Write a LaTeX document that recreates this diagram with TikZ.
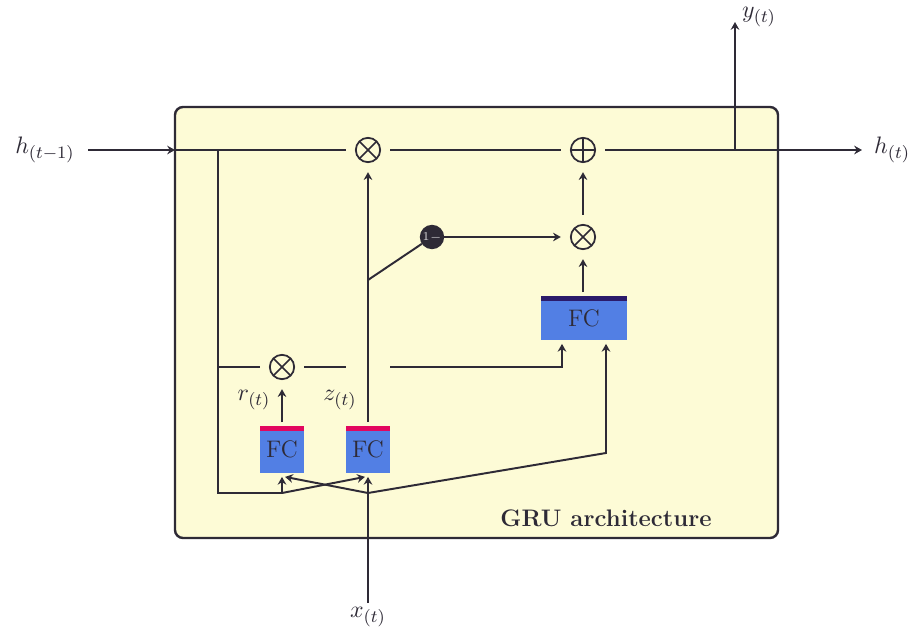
\documentclass[tikz,border=0pt]{standalone}
\usetikzlibrary{calc,arrows.meta}
\definecolor{ink}{HTML}{2E2A36}
\definecolor{boxfill}{HTML}{FDFBD6}
\definecolor{fcblue}{HTML}{527FE4}
\definecolor{fcpink}{HTML}{E2065F}
\definecolor{fcpurple}{HTML}{2B1B6B}
\begin{document}
\begin{tikzpicture}[x=0.46pt,y=-0.46pt,line width=0.9pt,
  every node/.style={text=ink,font=\fontsize{11}{13}\selectfont},
  conn/.style={draw=ink,line width=0.9pt},
  opnode/.style={circle,draw=ink,line width=0.8pt,minimum size=11.2pt,inner sep=0pt,outer sep=4.6pt},
  mulop/.style={opnode,path picture={
      \draw[ink,line width=0.8pt] ([shift={(45:5.6pt)}]path picture bounding box.center) -- ([shift={(225:5.6pt)}]path picture bounding box.center);
      \draw[ink,line width=0.8pt] ([shift={(135:5.6pt)}]path picture bounding box.center) -- ([shift={(315:5.6pt)}]path picture bounding box.center);}},
  addop/.style={opnode,path picture={
      \draw[ink,line width=0.8pt] ([shift={(0:5.6pt)}]path picture bounding box.center) -- ([shift={(180:5.6pt)}]path picture bounding box.center);
      \draw[ink,line width=0.8pt] ([shift={(90:5.6pt)}]path picture bounding box.center) -- ([shift={(270:5.6pt)}]path picture bounding box.center);}},
  fcbox/.style 2 args={rectangle,fill=fcblue,inner sep=0pt,outer sep=1.8pt,minimum width=#1,minimum height=21.6pt,text=ink,
      path picture={\fill[#2] (path picture bounding box.north west) rectangle ([yshift=-2.3pt]path picture bounding box.north east);}},
  onenode/.style={circle,fill=ink,minimum size=11.2pt,inner sep=0pt,outer sep=0pt,text=white!80!ink,font=\fontsize{5.5}{6}\selectfont},
  arr/.style={conn,-{Stealth[length=3.6pt,width=4pt,inset=1.2pt]}}
]
\useasboundingbox (0,0) rectangle (913,631);
% container
\draw[ink,line width=1.1pt,fill=boxfill,rounded corners=3.7pt] (175,107) rectangle (778,538);
\node[font=\fontsize{11}{13}\selectfont\bfseries] (title) at (606,518) {GRU architecture};

% op nodes
\node[mulop] (m1) at (368,150) {};
\node[addop] (p1) at (583,150) {};
\node[mulop] (m2) at (583,237) {};
\node[mulop] (m3) at (282,367) {};
\node[onenode] (one) at (432,237) {1$-$};

% FC nodes
\node[fcbox={20.2pt}{fcpink}] (fc1) at (282,449.5) {\raisebox{-1pt}{FC}};
\node[fcbox={20.2pt}{fcpink}] (fc2) at (368,449.5) {\raisebox{-1pt}{FC}};
\node[fcbox={40pt}{fcpurple},minimum height=20.2pt] (fc3) at (584,318) {\raisebox{-1pt}{FC}};

% labels
\node (hprev) at (45,150) {$h_{(t-1)}$};
\node[anchor=west] (hnext) at (866,150) {$h_{(t)}$};
\node[anchor=south west,inner sep=1pt] (ylab) at (739,30) {$y_{(t)}$};
\node (xlab) at (368,617) {$x_{(t)}$};
\node (rlab) at (254,400) {$r_{(t)}$};
\node (zlab) at (340,400) {$z_{(t)}$};

% coordinates
\coordinate (hin) at (175,150);
\coordinate (hj) at (218,150);
\coordinate (hd) at (218,493);
\coordinate (hb) at (282,493);
\coordinate (hr) at (218,367);
\coordinate (xb) at (368,493);
\coordinate (xs) at (368,603);
\coordinate (xr) at (606,453);
\coordinate (zc) at (368,280);
\coordinate (g1) at (346,367);
\coordinate (g2) at (390,367);
\coordinate (g3) at (562,367);
\coordinate (yb) at (735,150);
\coordinate (ytop) at (735,22);
\coordinate (hend) at (862,150);

% connectors
\draw[arr] (88,150) -- (hin);
\draw[conn] (hin) -- (m1);
\draw[conn] (hj) -- (hd) -- (hb);
\draw[arr] (hb) -- (fc1.south);
\draw[arr] (hb) -- ([xshift=-1.4pt]fc2.south);
\draw[arr] (xs) -- (fc2.south);
\draw[arr] (xb) -- ([xshift=1.4pt]fc1.south);
\draw[arr] (xb) -- (xr) -- (xr |- fc3.south);
\draw[conn] (hr) -- (m3);
\draw[conn] (m3) -- (g1);
\draw[arr] (g2) -- (g3) -- (g3 |- fc3.south);
\draw[arr] (fc1) -- (m3);
\draw[arr] (fc2) -- (m1);
\draw[conn] (zc) -- (one);
\draw[arr] (one) -- (m2);
\draw[arr] (fc3.north -| m2) -- (m2);
\draw[arr] (m2) -- (p1);
\draw[conn] (m1) -- (p1);
\draw[arr] (p1) -- (hend);
\draw[arr] (yb) -- (ytop);
\end{tikzpicture}
\end{document}
